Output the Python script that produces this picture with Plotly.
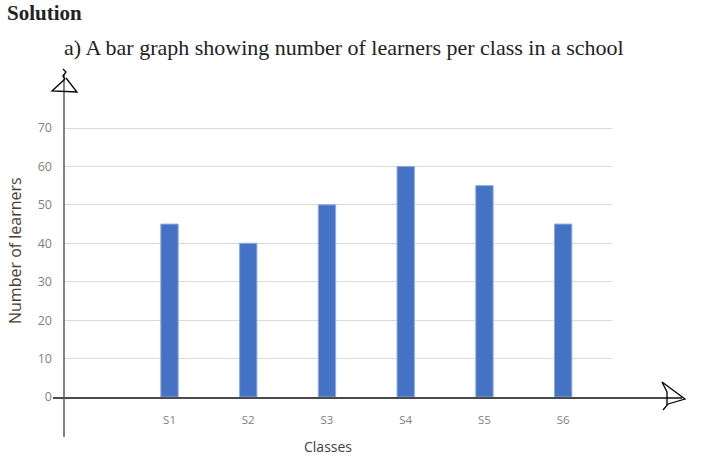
import plotly.graph_objects as go

classes = ["S1", "S2", "S3", "S4", "S5", "S6"]
learners = [45, 40, 50, 60, 55, 45]
y_ticks = [0, 10, 20, 30, 40, 50, 60, 70]

positions = list(range(1, len(classes) + 1))

W, H = 701, 460
L, R, T, B = 64, 89, 126, 63
PW, PH = W - L - R, H - T - B
UNIT = (397 - 128) / 70.0
Y_TOP = 70 + (128 - T) / UNIT


def px(x):
    return (x - L) / PW


def py(y):
    return (H - B - y) / PH


fig = go.Figure()
fig.add_trace(go.Bar(
    x=positions, y=learners,
    marker=dict(color="#4472C4", line=dict(color="#8FAADC", width=1)),
    width=0.22, showlegend=False,
))

fig.update_layout(
    width=W, height=H, autosize=False,
    margin=dict(l=L, r=R, t=T, b=B, pad=0),
    paper_bgcolor="white", plot_bgcolor="white",
    xaxis=dict(range=[-0.34, 6.62], tickvals=positions, ticktext=classes,
               showgrid=False, zeroline=False, showline=False, ticks="",
               tickfont=dict(family="Open Sans", size=11.5, color="#7f7f7f"),
               ticklabelstandoff=14),
    yaxis=dict(range=[0, Y_TOP], tickvals=y_ticks, showgrid=True,
               gridcolor="#d9d9d9", gridwidth=1, zeroline=False,
               showline=False, ticks="",
               tickfont=dict(family="Open Sans", size=12.5, color="#7f7f7f"),
               ticklabelstandoff=11),
)

line_dark = "#4a4a4a"
shapes = [
    dict(type="line", xref="paper", yref="paper", x0=px(53), x1=px(682),
         y0=py(398), y1=py(398), line=dict(color=line_dark, width=2)),
    dict(type="line", xref="paper", yref="paper", x0=px(64), x1=px(64),
         y0=py(437), y1=py(74), line=dict(color="#5a5a5a", width=1.5)),
]


def path(points, close=False):
    s = "M " + " L ".join(f"{px(a):.5f},{py(b):.5f}" for a, b in points)
    return s + (" Z" if close else "")


pen = dict(color="black", width=1.3)
# hand drawn arrow heads
for pts in [
    [(63, 69), (66, 72), (63, 76), (65, 79)],
    [(65, 79), (52, 91), (77, 92), (66, 78)],
    [(662, 382), (685, 399), (668, 404), (663, 410)],
    [(662, 382), (667, 392), (667, 405)],
]:
    shapes.append(dict(type="path", xref="paper", yref="paper",
                       path=path(pts), line=pen))
fig.update_layout(shapes=shapes)

annotations = [
    dict(text="<b>Solution</b>", x=px(5), y=py(13), xanchor="left",
         yanchor="middle", font=dict(family="Liberation Serif", size=21, color="#222")),
    dict(text="a) A bar graph showing number of learners per class in a school",
         x=px(62), y=py(48), xanchor="left", yanchor="middle",
         font=dict(family="Liberation Serif", size=22, color="#222")),
    dict(text="Classes", x=px(328), y=py(446), xanchor="center", yanchor="middle",
         font=dict(family="Open Sans", size=14, color="#404040")),
    dict(text="Number of learners", x=px(15), y=py(251), xanchor="center",
         yanchor="middle", textangle=-90,
         font=dict(family="Open Sans", size=16, color="#4d3d30")),
]
for a in annotations:
    a.update(xref="paper", yref="paper", showarrow=False)
fig.update_layout(annotations=annotations)

fig.write_html("out.html")
